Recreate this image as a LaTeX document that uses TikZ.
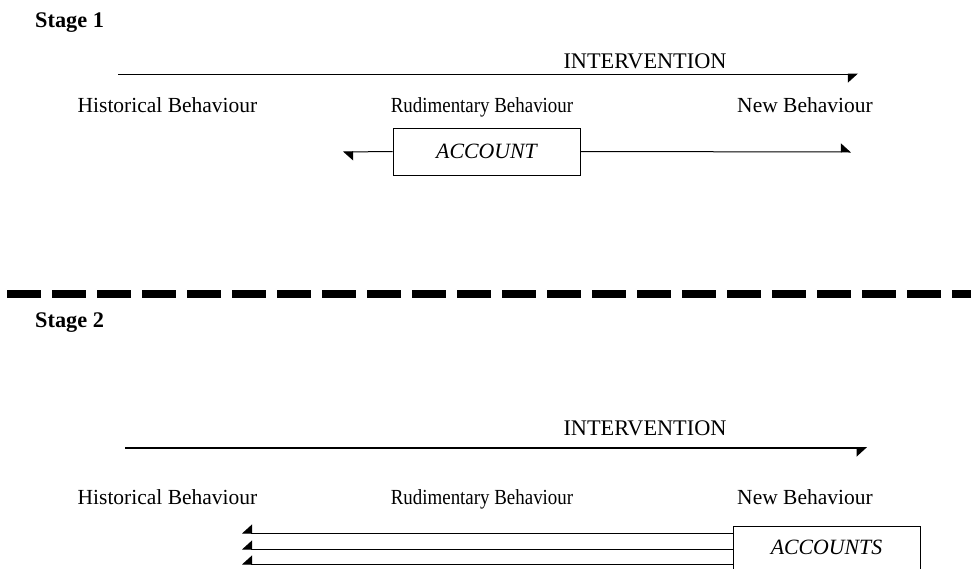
\documentclass[tikz,border=0pt]{standalone}
\usepackage{fontspec}
\usepackage{graphicx}
\setmainfont{Liberation Serif}
\usetikzlibrary{arrows.meta}
\newcommand{\narrowtext}[1]{\scalebox{0.88}[1]{#1}}
\tikzset{
  lbl/.style={inner sep=0pt, anchor=base, font=\fontsize{21.5}{25}\selectfont},
  intlbl/.style={inner sep=0pt, anchor=base, font=\fontsize{22.3}{26}\selectfont},
  stagelbl/.style={inner sep=0pt, anchor=base west, font=\fontsize{22.3}{26}\selectfont\bfseries},
  accbox/.style={draw, line width=0.8pt, inner sep=0pt, minimum width=187pt, font=\fontsize{21.8}{25}\selectfont\itshape},
  thinline/.style={line width=1pt},
  thickline/.style={line width=1.7pt},
  tipswap/.style={-{Triangle[harpoon,swap,length=9.5pt,width=17pt]}},
  tipkeep/.style={-{Triangle[harpoon,length=9.5pt,width=17pt]}},
  divider/.style={line width=7.5pt, dash pattern=on 34pt off 11pt}
}
\begin{document}
\begin{tikzpicture}[x=1pt,y=-1pt]
\useasboundingbox[fill=white] (0,0) rectangle (971,568);
% Stage 1
\node[stagelbl] (s1) at (35,27) {Stage 1};
\node[intlbl] (int1) at (645,68) {INTERVENTION};
\coordinate (i1a) at (118,74);
\coordinate (i1b) at (858,74);
\draw[thinline,tipswap] (i1a) -- (i1b);
\node[lbl] (hb1) at (167.5,112) {Historical Behaviour};
\node[lbl] (rb1) at (482,112) {\narrowtext{Rudimentary Behaviour}};
\node[lbl] (nb1) at (805,112) {New Behaviour};
\node[accbox, minimum height=47pt] (acc1) at (486.5,151.5) {ACCOUNT};
\coordinate (a1l) at (343,152);
\coordinate (a1r) at (851,152);
\draw[thinline,tipkeep] (acc1.west) -- (a1l);
\draw[thinline,tipkeep] (acc1.east) -- (a1r);
% divider
\coordinate (d1) at (7,294);
\coordinate (d2) at (985,294);
\draw[divider] (d1) -- (d2);
% Stage 2
\node[stagelbl] (s2) at (35,327) {Stage 2};
\node[intlbl] (int2) at (645,435) {INTERVENTION};
\coordinate (i2a) at (125,448);
\coordinate (i2b) at (867,448);
\draw[thickline,tipswap] (i2a) -- (i2b);
\node[lbl] (hb2) at (167.5,504) {Historical Behaviour};
\node[lbl] (rb2) at (482,504) {\narrowtext{Rudimentary Behaviour}};
\node[lbl] (nb2) at (805,504) {New Behaviour};
\node[accbox, anchor=north, text height=28pt, text depth=22pt] (acc2) at (826.5,526) {ACCOUNTS};
\coordinate (l1) at (242,533);
\coordinate (l2) at (242,549);
\coordinate (l3) at (242,564);
\draw[thinline,tipswap] (acc2.west |- l1) -- (l1);
\draw[thinline,tipswap] (acc2.west |- l2) -- (l2);
\draw[thinline,tipswap] (acc2.west |- l3) -- (l3);
\end{tikzpicture}
\end{document}
